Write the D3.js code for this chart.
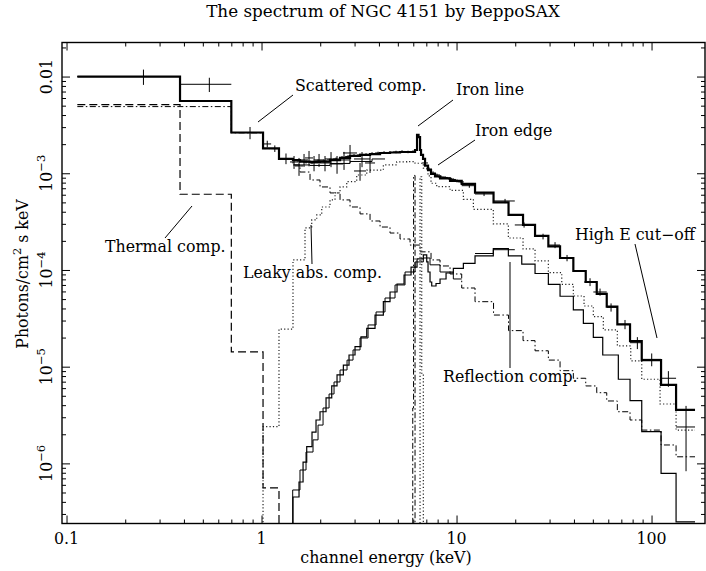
<!DOCTYPE html>
<html>
<head>
<meta charset="utf-8">
<script src="https://cdn.jsdelivr.net/npm/d3@7"></script>
<style>
  body { margin: 0; background: #fff; }
  text { font-family: "DejaVu Serif", serif; fill: #000; }
</style>
</head>
<body>
<div id="chart"></div>
<script>
// values: energy in keV, flux in photons/cm2/s/keV
// step series are given as bin edges (n+1) and bin values (n)

var modelEdges = [0.1136, 0.382, 0.700, 1.018, 1.229, 1.450, 1.575, 1.773, 1.995, 2.245, 2.527, 2.844,
  3.200, 3.601, 4.053, 4.560, 5.132, 5.775, 6.127, 6.273, 6.386, 6.500, 6.577, 6.734, 6.895, 7.142,
  7.399, 7.757, 8.230, 9.262, 10.63, 12.44, 15.48, 18.48, 21.93, 25.27, 29.57, 33.95, 39.72, 45.98,
  52.36, 58.92, 66.78, 77.58, 89.08, 111.9, 133.6, 167.1];
var modelFlux = [0.0100, 5.59e-3, 2.64e-3, 1.81e-3, 1.41e-3, 1.37e-3, 1.32e-3, 1.31e-3, 1.32e-3, 1.37e-3,
  1.44e-3, 1.51e-3, 1.55e-3, 1.58e-3, 1.62e-3, 1.64e-3, 1.66e-3, 1.66e-3, 1.74e-3, 2.49e-3, 2.37e-3,
  1.74e-3, 1.55e-3, 1.41e-3, 1.20e-3, 1.08e-3, 9.83e-4, 9.27e-4, 8.84e-4, 8.33e-4, 7.75e-4, 6.30e-4,
  4.99e-4, 3.71e-4, 2.92e-4, 2.25e-4, 1.75e-4, 1.33e-4, 9.76e-5, 7.51e-5, 5.65e-5, 4.17e-5, 2.74e-5,
  1.84e-5, 1.17e-5, 6.47e-6, 3.57e-6];

var lecsModelEdges = [1.450, 1.773, 2.245, 2.844, 3.687, 4.298];
var lecsModelFlux = [1.219e-3, 1.204e-3, 1.263e-3, 1.324e-3, 1.406e-3];

var thermalEdges = [0.1136, 0.382, 0.700, 1.018, 1.229, 1.40];
var thermalFlux = [5.12e-3, 6.07e-4, 1.42e-5, 5.57e-7, 1e-9];

var scatterEdges = [0.1136, 0.382, 0.700, 1.018, 1.229, 1.450, 1.575, 1.773, 1.995, 2.245, 2.527, 2.844,
  3.200, 3.601, 4.053, 4.560, 5.132, 5.775, 6.500, 7.399, 8.230, 9.262, 10.63, 12.44, 15.48, 18.48,
  21.93, 25.27, 29.57, 33.95, 39.72, 45.98, 52.36, 58.92, 66.78, 77.58, 89.08, 111.9, 133.6, 167.1];
var scatterFlux = [4.89e-3, 4.89e-3, 2.62e-3, 1.80e-3, 1.40e-3, 1.22e-3, 1.03e-3, 8.52e-4, 7.22e-4,
  6.26e-4, 5.30e-4, 4.48e-4, 3.80e-4, 3.21e-4, 2.78e-4, 2.41e-4, 2.09e-4, 1.81e-4, 1.54e-4, 1.27e-4,
  1.10e-4, 9.09e-5, 6.51e-5, 4.70e-5, 3.42e-5, 2.36e-5, 1.86e-5, 1.46e-5, 1.17e-5, 9.09e-6, 7.59e-6,
  6.32e-6, 5.38e-6, 4.42e-6, 3.42e-6, 2.81e-6, 2.21e-6, 1.55e-6, 1.17e-6];

var leakyEdges = [0.95, 1.018, 1.229, 1.450, 1.671, 1.809, 1.919, 2.036, 2.245, 2.382, 2.527, 2.735,
  3.077, 3.464, 4.214, 4.935, 5.555, 6.127, 6.757, 7.142, 7.399, 7.915, 9.262, 10.84, 12.20, 15.44,
  18.44, 21.93, 25.27, 29.57, 34.64, 39.72, 45.07, 50.29, 56.60, 66.78, 78.23, 89.08, 110.6, 133.6, 167.1];
var leakyFlux = [1e-9, 2.40e-6, 2.45e-5, 1.27e-4, 2.72e-4, 3.29e-4, 3.71e-4, 4.48e-4, 5.30e-4, 6.26e-4,
  7.22e-4, 8.19e-4, 9.60e-4, 1.08e-3, 1.22e-3, 1.31e-3, 1.32e-3, 1.27e-3, 1.13e-3, 9.38e-4, 7.88e-4,
  7.27e-4, 6.64e-4, 5.38e-4, 4.24e-4, 2.99e-4, 2.14e-4, 1.65e-4, 1.24e-4, 9.38e-5, 7.11e-5, 5.38e-5,
  4.24e-5, 3.29e-5, 2.40e-5, 1.64e-5, 1.15e-5, 7.41e-6, 4.11e-6, 2.21e-6];

var reflEdges = [1.40, 1.450, 1.557, 1.633, 1.705, 1.815, 1.903, 1.995, 2.142, 2.291, 2.439, 2.628,
  2.810, 3.016, 3.237, 3.464, 3.820, 4.214, 4.560, 4.954, 5.381, 5.845, 6.273, 6.757, 7.034, 7.142,
  7.313, 7.461, 7.849, 8.230, 8.836, 9.630, 10.84, 12.44, 15.44, 18.44, 21.60, 25.27, 29.57, 33.95,
  39.72, 44.71, 50.29, 56.20, 67.56, 77.58, 89.08, 111.9, 133.6, 167.1];
var reflFlux = [1e-9, 4.49e-7, 6.42e-7, 1.03e-6, 1.49e-6, 2.11e-6, 2.81e-6, 3.42e-6, 4.75e-6, 6.32e-6,
  8.21e-6, 1.04e-5, 1.32e-5, 1.61e-5, 2.03e-5, 2.49e-5, 3.42e-5, 4.70e-5, 5.92e-5, 7.16e-5, 8.87e-5,
  1.07e-4, 1.30e-4, 1.43e-4, 1.21e-4, 9.53e-5, 7.51e-5, 6.83e-5, 7.25e-5, 8.07e-5, 9.31e-5, 1.04e-4,
  1.17e-4, 1.40e-4, 1.66e-4, 1.40e-4, 1.15e-4, 9.2e-5, 7.1e-5, 5.35e-5, 3.86e-5, 2.81e-5, 2.01e-5,
  1.32e-5, 7.41e-6, 4.45e-6, 2.13e-6, 7.90e-7, 2.49e-7];

var reflLecsEdges = [1.40, 1.445, 1.575, 1.691, 1.837, 1.949, 2.068, 2.220, 2.354, 2.527, 2.745, 2.946,
  3.200, 3.518, 3.866, 4.298, 4.837, 5.444, 6.127, 6.757, 7.313, 8.230, 9.630, 10.63];
var reflLecsFlux = [1e-9, 5.31e-7, 8.54e-7, 1.31e-6, 1.75e-6, 2.49e-6, 3.74e-6, 5.22e-6, 6.95e-6,
  9.24e-6, 1.17e-5, 1.49e-5, 1.98e-5, 2.70e-5, 3.68e-5, 5.13e-5, 7.00e-5, 9.53e-5, 1.21e-4, 1.33e-4,
  1.13e-4, 9.53e-5, 8.07e-5];

var reflPdsEdges = [12.44, 15.44, 19.9];
var reflPdsFlux = [1.48e-4, 1.62e-4];

var ironLecsEdges = [5.60, 5.964, 6.02, 6.127, 6.80];
var ironLecsFlux = [1e-9, 3.74e-6, 9.5e-4, 1e-9];
var ironMecsEdges = [6.0, 6.50, 6.63, 6.757, 7.0];
var ironMecsFlux = [1e-9, 9.2e-4, 8.55e-6, 1e-9];

// data points with error bars
var lecsE   = [0.248, 0.540, 0.873, 1.07, 1.17, 1.335, 1.468, 1.557, 1.652, 1.752, 1.859, 1.972, 2.116,
  2.272, 2.439, 2.649, 2.844, 3.200, 3.276, 3.601];
var lecsLo  = [0.1136, 0.382, 0.700, 1.018, 1.12, 1.229, 1.400, 1.485, 1.575, 1.671, 1.773, 1.859, 1.995,
  2.116, 2.272, 2.468, 2.617, 2.981, 2.981, 3.395];
var lecsHi  = [0.382, 0.700, 1.018, 1.12, 1.229, 1.450, 1.539, 1.633, 1.731, 1.837, 1.949, 2.092, 2.245,
  2.439, 2.617, 2.844, 3.088, 3.435, 3.601, 3.820];
var lecsF   = [0.0100, 8.32e-3, 2.63e-3, 2.01e-3, 1.80e-3, 1.422e-3, 1.309e-3, 1.190e-3, 1.373e-3,
  1.440e-3, 1.278e-3, 1.373e-3, 1.278e-3, 1.406e-3, 1.248e-3, 1.373e-3, 1.621e-3, 1.056e-3, 1.406e-3, 1.278e-3];
var lecsErr = [1.8e-3, 1.4e-3, 3.8e-4, 1.6e-4, 1.4e-4, 1.8e-4, 2.0e-4, 2.5e-4, 2.1e-4, 2.6e-4, 2.3e-4,
  2.1e-4, 2.3e-4, 2.5e-4, 2.6e-4, 2.9e-4, 3.4e-4, 2.2e-4, 2.5e-4, 2.7e-4];

var mecsE   = [1.575, 1.691, 1.815, 1.949, 2.092, 2.245, 2.411, 2.587, 2.778, 2.981, 3.200, 3.435, 3.687,
  3.958, 4.249, 4.560, 4.894, 5.254, 5.640, 5.982, 6.895, 7.228, 7.577, 7.943, 8.326, 8.729, 9.153,
  9.595, 10.06, 10.55];
var mecsF   = [1.340e-3, 1.309e-3, 1.293e-3, 1.340e-3, 1.340e-3, 1.373e-3, 1.406e-3, 1.457e-3, 1.492e-3,
  1.528e-3, 1.546e-3, 1.564e-3, 1.602e-3, 1.621e-3, 1.641e-3, 1.641e-3, 1.661e-3, 1.680e-3, 1.661e-3,
  1.680e-3, 1.278e-3, 1.108e-3, 1.007e-3, 9.60e-4, 9.16e-4, 9.05e-4, 8.84e-4, 8.63e-4, 8.33e-4, 8.13e-4];
var mecsErr = [5e-5, 5e-5, 5e-5, 5e-5, 5e-5, 5e-5, 5e-5, 5e-5, 5e-5, 5e-5, 5e-5, 5e-5, 5e-5, 5e-5, 5e-5,
  5e-5, 5e-5, 5e-5, 5e-5, 5e-5, 4e-5, 4e-5, 4e-5, 3e-5, 3e-5, 3e-5, 3e-5, 3e-5, 3e-5, 3e-5];
var mecsBinRatio = 1.035;

var pdsE   = [11.63, 13.84, 17.73, 22.2, 27.77, 32.0, 36.87, 48.38, 54.44, 62.0, 73.1, 84.6, 100.2, 122.0, 150.3];
var pdsLo  = [10.63, 12.44, 15.48, 19.9, 25.27, 29.57, 33.95, 45.07, 50.3, 58.92, 66.78, 77.58, 89.08, 111.9, 133.6];
var pdsHi  = [12.44, 15.48, 19.9, 25.27, 29.57, 33.95, 39.72, 52.36, 58.92, 66.78, 77.58, 89.08, 111.9, 133.6, 167.1];
var pdsF   = [7.44e-4, 6.11e-4, 5.17e-4, 2.92e-4, 2.22e-4, 1.81e-4, 1.33e-4, 7.51e-5, 5.92e-5, 4.11e-5,
  2.74e-5, 1.77e-5, 1.19e-5, 7.59e-6, 2.38e-6];
var pdsErr = [3.6e-5, 3.0e-5, 2.6e-5, 1.8e-5, 1.5e-5, 1.3e-5, 1.0e-5, 7e-6, 5e-6, 4e-6, 3e-6, 2.5e-6,
  1.8e-6, 1.4e-6, 1.55e-6];

var xTicks = [0.1, 1, 10, 100];
var xTickLabels = ["0.1", "1", "10", "100"];
var yTicks = [0.01, 1e-3, 1e-4, 1e-5, 1e-6];
var yTickBase = ["0.01", "10", "10", "10", "10"];
var yTickExp = ["", "\u22123", "\u22124", "\u22125", "\u22126"];

var notes = [
  {text: "Scattered comp.", tx: 295, ty: 91, from: [293, 95], to: [258, 122]},
  {text: "Iron line", tx: 456, ty: 95, from: [453, 100], to: [418, 126]},
  {text: "Iron edge", tx: 475, ty: 136, from: [475, 140], to: [438, 165]},
  {text: "High E cut\u2212off", tx: 575, ty: 240, from: [635, 244], to: [657, 338]},
  {text: "Reflection comp.", tx: 443, ty: 382, from: [510, 368], to: [510, 262]},
  {text: "Leaky abs. comp.", tx: 243, ty: 278, from: [312, 264], to: [311, 225]},
  {text: "Thermal comp.", tx: 105, ty: 252, from: [165, 238], to: [192, 206]}
];

var width = 706, height = 571;
var plot = {left: 62, right: 705, top: 42.5, bottom: 523.5};
var fontSize = "15.8px";

var svg = d3.select("#chart").append("svg")
  .attr("width", width)
  .attr("height", height);

var x = d3.scaleLog().domain([0.0948, 188]).range([plot.left, plot.right]);
var y = d3.scaleLog().domain([2.39e-7, 0.0225]).range([plot.bottom, plot.top]);

svg.append("defs").append("clipPath").attr("id", "clip")
  .append("rect")
  .attr("x", plot.left).attr("y", plot.top)
  .attr("width", plot.right - plot.left).attr("height", plot.bottom - plot.top);

var g = svg.append("g").attr("clip-path", "url(#clip)");

function stepPoints(edges, vals) {
  var pts = vals.map(function (v, i) { return [edges[i], v]; });
  pts.push([edges[edges.length - 1], vals[vals.length - 1]]);
  return pts;
}
var stepLine = d3.line()
  .x(function (d) { return x(d[0]); })
  .y(function (d) { return Math.min(y(d[1]), plot.bottom + 20); })
  .curve(d3.curveStepAfter);

function drawStep(edges, vals, w, dash, color) {
  g.append("path")
    .attr("d", stepLine(stepPoints(edges, vals)))
    .attr("fill", "none")
    .attr("stroke", color || "#000")
    .attr("stroke-width", w)
    .attr("stroke-dasharray", dash || null);
}

// components
drawStep(thermalEdges, thermalFlux, 1.2, "8,4");
drawStep(scatterEdges, scatterFlux, 1, "6,2.5,1.5,2.5");
drawStep(leakyEdges, leakyFlux, 1.2, "1.2,2.2", "#222");
drawStep(ironLecsEdges, ironLecsFlux, 1, "6,2.5,1.5,2.5");
drawStep(ironMecsEdges, ironMecsFlux, 1.2, "1.2,2.2", "#222");
drawStep(reflLecsEdges, reflLecsFlux, 1);
drawStep(reflPdsEdges, reflPdsFlux, 1);
drawStep(reflEdges, reflFlux, 1.2);
drawStep(lecsModelEdges, lecsModelFlux, 1);
drawStep(modelEdges, modelFlux, 2.2);

// error crosses
function drawCrosses(E, lo, hi, F, err) {
  var cg = g.append("g").attr("stroke", "#000").attr("stroke-width", 1);
  E.forEach(function (e, i) {
    cg.append("line")
      .attr("x1", x(lo[i])).attr("x2", x(hi[i]))
      .attr("y1", y(F[i])).attr("y2", y(F[i]));
    cg.append("line")
      .attr("x1", x(e)).attr("x2", x(e))
      .attr("y1", y(F[i] + err[i])).attr("y2", y(Math.max(F[i] - err[i], 1e-9)));
  });
}
drawCrosses(lecsE, lecsLo, lecsHi, lecsF, lecsErr);
drawCrosses(mecsE,
  mecsE.map(function (e) { return e / mecsBinRatio; }),
  mecsE.map(function (e) { return e * mecsBinRatio; }),
  mecsF, mecsErr);
drawCrosses(pdsE, pdsLo, pdsHi, pdsF, pdsErr);

// ticks on all four sides
function isMajor(t) { var l = Math.log10(t); return Math.abs(l - Math.round(l)) < 1e-6; }
var xAll = x.ticks(), yAll = y.ticks();
var xMajor = xAll.filter(isMajor), xMinor = xAll.filter(function (t) { return !isMajor(t); });
var yMajor = yAll.filter(isMajor), yMinor = yAll.filter(function (t) { return !isMajor(t); });

function tickAxis(axis, vals, size, tr) {
  var a = svg.append("g").attr("transform", tr)
    .call(axis.tickValues(vals).tickSize(size).tickFormat(""));
  a.select(".domain").remove();
  a.selectAll("line").attr("stroke", "#000").attr("stroke-width", 1);
}
tickAxis(d3.axisBottom(x), xMajor, -8, "translate(0," + plot.bottom + ")");
tickAxis(d3.axisBottom(x), xMinor, -4, "translate(0," + plot.bottom + ")");
tickAxis(d3.axisTop(x), xMajor, -8, "translate(0," + plot.top + ")");
tickAxis(d3.axisTop(x), xMinor, -4, "translate(0," + plot.top + ")");
tickAxis(d3.axisLeft(y), yMajor, -8, "translate(" + plot.left + ",0)");
tickAxis(d3.axisLeft(y), yMinor, -4, "translate(" + plot.left + ",0)");
tickAxis(d3.axisRight(y), yMajor, -8, "translate(" + plot.right + ",0)");
tickAxis(d3.axisRight(y), yMinor, -4, "translate(" + plot.right + ",0)");

svg.append("rect")
  .attr("x", plot.left).attr("y", plot.top)
  .attr("width", plot.right - plot.left).attr("height", plot.bottom - plot.top)
  .attr("fill", "none").attr("stroke", "#000").attr("stroke-width", 1.4);

// tick labels
svg.selectAll(".xlab").data(xTicks).enter().append("text")
  .attr("x", function (d) { return x(d); })
  .attr("y", 544)
  .attr("text-anchor", "middle")
  .style("font-size", fontSize)
  .text(function (d, i) { return xTickLabels[i]; });

yTicks.forEach(function (t, i) {
  var tx = svg.append("text")
    .attr("transform", "translate(52," + y(t) + ") rotate(-90)")
    .attr("text-anchor", "middle")
    .style("font-size", fontSize);
  tx.append("tspan").text(yTickBase[i]);
  if (yTickExp[i]) tx.append("tspan").attr("dy", -7).style("font-size", "11.5px").text(yTickExp[i]);
});

// titles
svg.append("text").attr("x", 383).attr("y", 17).attr("text-anchor", "middle")
  .style("font-size", "16.8px").text("The spectrum of NGC 4151 by BeppoSAX");
svg.append("text").attr("x", 386).attr("y", 563).attr("text-anchor", "middle")
  .style("font-size", fontSize).text("channel energy (keV)");
var yl = svg.append("text").attr("transform", "translate(28,274) rotate(-90)")
  .attr("text-anchor", "middle").style("font-size", fontSize);
yl.append("tspan").text("Photons/cm");
yl.append("tspan").attr("dy", -7).style("font-size", "11.5px").text("2");
yl.append("tspan").attr("dy", 7).text(" s keV");

// annotations
notes.forEach(function (n) {
  svg.append("text").attr("x", n.tx).attr("y", n.ty).style("font-size", fontSize).text(n.text);
  svg.append("line")
    .attr("x1", n.from[0]).attr("y1", n.from[1])
    .attr("x2", n.to[0]).attr("y2", n.to[1])
    .attr("stroke", "#000").attr("stroke-width", 1);
});
</script>
</body>
</html>
